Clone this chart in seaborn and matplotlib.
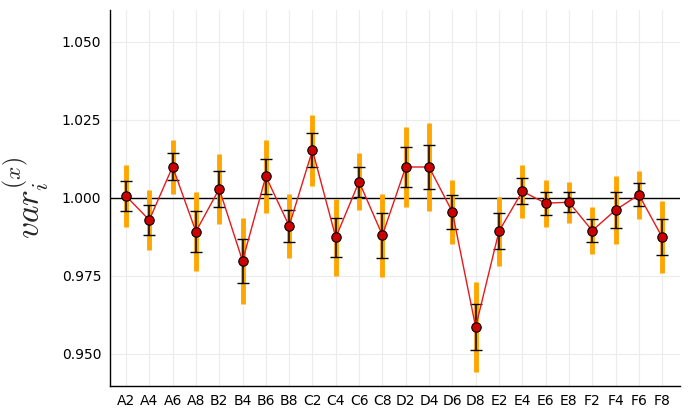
import matplotlib
matplotlib.use("Agg")
import matplotlib.pyplot as plt
import seaborn as sns
import pandas as pd
import numpy as np

categories = ["A2", "A4", "A6", "A8", "B2", "B4", "B6", "B8",
              "C2", "C4", "C6", "C8", "D2", "D4", "D6", "D8",
              "E2", "E4", "E6", "E8", "F2", "F4", "F6", "F8"]
values = [1.0006, 0.9929, 1.0100, 0.9892, 1.0029, 0.9798, 1.0069, 0.9910,
          1.0153, 0.9873, 1.0052, 0.9880, 1.0099, 1.0099, 0.9955, 0.9586,
          0.9893, 1.0021, 0.9983, 0.9986, 0.9895, 0.9961, 1.0010, 0.9874]
err_inner = [0.0049, 0.0047, 0.0043, 0.0065, 0.0057, 0.0071, 0.0057, 0.0052,
             0.0055, 0.0061, 0.0048, 0.0072, 0.0063, 0.0071, 0.0054, 0.0073,
             0.0057, 0.0042, 0.0037, 0.0032, 0.0037, 0.0058, 0.0037, 0.0057]
err_outer = [0.0100, 0.0096, 0.0087, 0.0126, 0.0112, 0.0139, 0.0118, 0.0104,
             0.0114, 0.0124, 0.0092, 0.0134, 0.0127, 0.0140, 0.0103, 0.0144,
             0.0111, 0.0084, 0.0075, 0.0065, 0.0076, 0.0110, 0.0077, 0.0115]
yticks = [0.950, 0.975, 1.000, 1.025, 1.050]

df = pd.DataFrame({"cat": categories, "val": values,
                   "e1": err_inner, "e2": err_outer})

sns.set_theme(style="white")
plt.rcParams["mathtext.fontset"] = "cm"
plt.rcParams["font.family"] = ["DejaVu Sans"]

fig = plt.figure(figsize=(6.94, 4.08), dpi=100)
ax = fig.add_axes([0.158, 0.054, 0.822, 0.922])

pos = np.arange(len(categories))
ax.errorbar(pos, df["val"], yerr=df["e2"], fmt="none", ecolor="#FFA500",
            elinewidth=3.5, capsize=0, zorder=2)
ax.errorbar(pos, df["val"], yerr=df["e1"], fmt="none", ecolor="black",
            elinewidth=1.1, capsize=4, capthick=1.0, zorder=3)
ax.axhline(1.0, color="black", lw=1.0, zorder=1)
df["pos"] = pos
sns.lineplot(data=df, x="pos", y="val", ax=ax, color="#e8181c", lw=1.0,
             zorder=4, sort=False)
sns.scatterplot(data=df, x="pos", y="val", ax=ax, color="#cc0000",
                edgecolor="black", linewidth=0.8, s=46, zorder=5)

ax.set_xticks(pos)
ax.set_xticklabels(categories)
ax.set_yticks(yticks)
ax.set_yticklabels([f"{t:.3f}" for t in yticks])
ax.set_xlim(-0.7, 23.77)
ax.set_ylim(0.9397, 1.0603)
ax.grid(True, color="#ececec", lw=0.8)
ax.set_axisbelow(True)
for s in ["top", "right"]:
    ax.spines[s].set_visible(False)
for s in ["left", "bottom"]:
    ax.spines[s].set_color("black")
    ax.spines[s].set_linewidth(1.0)
ax.tick_params(axis="both", direction="in", length=4, width=0.8,
               colors="black", labelsize=10, pad=6)
ax.set_xlabel("")
ax.set_ylabel(r"$var_i^{(x)}$", fontsize=24, labelpad=8)

fig.savefig("out.png", dpi=100)
